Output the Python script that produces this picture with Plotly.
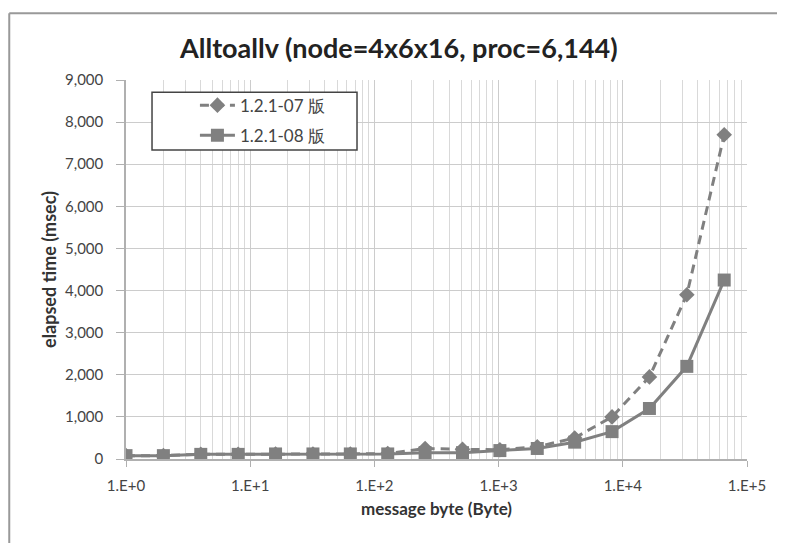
import plotly.graph_objects as go

msg_bytes = [1, 2, 4, 8, 16, 32, 64, 128, 256, 512, 1024, 2048, 4096, 8192, 16384, 32768, 65536]
v07 = [80, 80, 110, 110, 120, 120, 120, 130, 250, 230, 220, 290, 500, 1000, 1950, 3900, 7700]
v08 = [80, 80, 110, 110, 120, 120, 120, 120, 150, 150, 200, 250, 400, 650, 1200, 2200, 4250]
series_names = ["1.2.1-07 版", "1.2.1-08 版"]
x_tick_vals = [1, 10, 100, 1000, 10000, 100000]
x_tick_text = ["1.E+0", "1.E+1", "1.E+2", "1.E+3", "1.E+4", "1.E+5"]

gray = "#808080"
axis_gray = "#b0b0b0"
font_fam = "Lato, 'Open Sans', sans-serif"

fig = go.Figure()
fig.add_trace(go.Scatter(x=msg_bytes, y=v07, name=series_names[0], mode="lines+markers",
                         legendgroup="a",
                         line=dict(color=gray, width=3, dash="9px,6px"),
                         marker=dict(symbol="diamond", size=12, color=gray)))
fig.add_trace(go.Scatter(x=msg_bytes, y=v08, name=series_names[1], mode="lines+markers",
                         legendgroup="b",
                         line=dict(color=gray, width=3),
                         marker=dict(symbol="square", size=13, color=gray)))

fig.update_layout(
    width=777, height=535,
    margin=dict(l=118, r=38, t=72, b=84),
    paper_bgcolor="white", plot_bgcolor="white",
    font=dict(family=font_fam, color="#333333"),
    title=dict(text="<b>Alltoallv (node=4x6x16, proc=6,144)</b>", x=0.503, xanchor="center",
               y=0.925, yanchor="middle", font=dict(size=27, color="#222222")),
    showlegend=True,
    legend=dict(x=0.111, y=0.98, xanchor="left", yanchor="top",
                bgcolor="rgba(0,0,0,0)", borderwidth=0,
                font=dict(size=17, color="#444444"), itemwidth=35,
                tracegroupgap=5),
    xaxis=dict(type="log", range=[0, 5], tickvals=x_tick_vals, ticktext=x_tick_text,
               showgrid=True, gridcolor="#cccccc", gridwidth=1.2,
               minor=dict(showgrid=True, gridcolor="#d9d9d9", gridwidth=1, dtick="D1"),
               showline=True, linecolor=axis_gray, linewidth=1.5, zeroline=False,
               ticks="outside", ticklen=6, tickcolor=axis_gray, ticklabelstandoff=6,
               tickfont=dict(size=15, color="#444444"),
               title=dict(text="<b>message byte (Byte)</b>", font=dict(size=17, color="#333333"), standoff=10)),
    yaxis=dict(range=[0, 9000], dtick=1000, tickformat=",d",
               showgrid=True, gridcolor="#cccccc", gridwidth=1.2,
               showline=True, linecolor=axis_gray, linewidth=1.5, zeroline=False,
               ticks="outside", ticklen=8, tickcolor=axis_gray, ticklabelstandoff=10,
               tickfont=dict(size=15, color="#444444"),
               title=dict(text="<b>elapsed time (msec)</b>", font=dict(size=18, color="#333333"), standoff=4)),
)
# legend frame
fig.add_shape(type="rect", xref="paper", yref="paper", x0=0.0419, x1=0.372, y0=0.815, y1=0.968,
              line=dict(color="#444444", width=1.5), fillcolor="white", layer="above")
# outer chart frame (left and top edges)
fig.add_shape(type="line", xref="paper", yref="paper", x0=-0.188, x1=-0.188, y0=-0.5, y1=1.176,
              line=dict(color="#999999", width=2))
fig.add_shape(type="line", xref="paper", yref="paper", x0=-0.188, x1=1.5, y0=1.176, y1=1.176,
              line=dict(color="#999999", width=2))
fig.write_html("out.html")
